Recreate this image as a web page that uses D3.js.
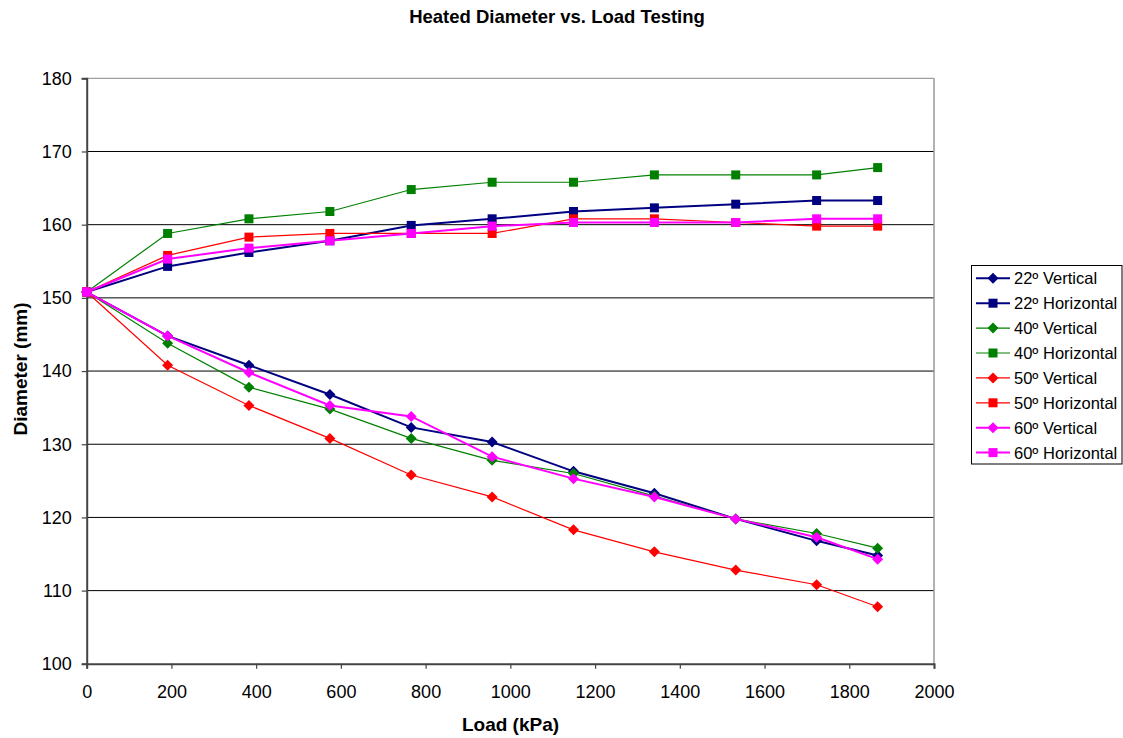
<!DOCTYPE html>
<html><head><meta charset="utf-8">
<script src="https://cdn.jsdelivr.net/npm/d3@7"></script>
<style>body{margin:0;background:#fff}svg{display:block}text{font-family:"Liberation Sans",Arial,sans-serif}</style>
</head><body>
<svg id="c" width="1123" height="738"></svg>
<script>
const loads = [0,191,383,574,766,957,1149,1340,1532,1723,1867];
const v22 = [150.8,144.8,140.8,136.8,132.3,130.3,126.3,123.3,119.8,116.8,114.8];
const h22 = [150.8,154.3,156.2,157.8,159.9,160.8,161.8,162.3,162.8,163.3,163.3];
const v40 = [150.8,143.8,137.8,134.8,130.8,127.8,126.0,122.9,119.8,117.8,115.8];
const h40 = [150.8,158.8,160.8,161.8,164.8,165.8,165.8,166.8,166.8,166.8,167.8];
const v50 = [150.8,140.8,135.3,130.8,125.8,122.8,118.3,115.3,112.8,110.8,107.8];
const h50 = [150.8,155.8,158.3,158.8,158.8,158.8,160.8,160.8,160.3,159.8,159.8];
const v60 = [150.8,144.8,139.8,135.3,133.8,128.3,125.3,122.8,119.8,117.3,114.3];
const h60 = [150.8,155.3,156.8,157.8,158.8,159.8,160.3,160.3,160.3,160.8,160.8];
const seriesNames = ["22º Vertical","22º Horizontal","40º Vertical","40º Horizontal","50º Vertical","50º Horizontal","60º Vertical","60º Horizontal"];
const seriesValues = [v22,h22,v40,h40,v50,h50,v60,h60];
const seriesColors = ["#000080","#000080","#008000","#008000","#ff0000","#ff0000","#ff00ff","#ff00ff"];
const seriesMarkers = ["diamond","square","diamond","square","diamond","square","diamond","square"];
const seriesWidths = [2,2,1.2,1.2,1.2,1.2,2,2];
const xTicks = [0,200,400,600,800,1000,1200,1400,1600,1800,2000];
const yTicks = [100,110,120,130,140,150,160,170,180];

const svg = d3.select("#c");
const L=86.7,R=934,T=78.3,B=663.8;
const x = d3.scaleLinear().domain([0,2000]).range([L,R]);
const y = d3.scaleLinear().domain([100,180]).range([B,T]);

// gridlines
svg.append("g").selectAll("line").data(yTicks.filter(d=>d>100)).join("line")
  .attr("x1",L).attr("x2",R).attr("y1",d=>y(d)).attr("y2",d=>y(d))
  .attr("stroke",d=>d===180?"#888":"#000").attr("stroke-width",1);
// right border
svg.append("line").attr("x1",R).attr("x2",R).attr("y1",T).attr("y2",B).attr("stroke","#999").attr("stroke-width",1.5);

// axes
const xa = svg.append("g").attr("transform",`translate(0,${B})`)
  .call(d3.axisBottom(x).tickValues(xTicks).tickSize(5).tickPadding(16).tickFormat(d3.format("d")));
const ya = svg.append("g").attr("transform",`translate(${L},0)`)
  .call(d3.axisLeft(y).tickValues(yTicks).tickSize(5).tickPadding(10).tickFormat(d3.format("d")));
[xa,ya].forEach(a=>{
  a.select(".domain").attr("stroke","#444").attr("stroke-width",2);
  a.selectAll(".tick line").attr("stroke","#444").attr("stroke-width",1.2);
  a.selectAll(".tick text").attr("font-size",18).attr("fill","#000").attr("font-family","Liberation Sans, Arial, sans-serif");
});

function marker(sel,type,color){
  if(type==="square"){
    sel.append("rect").attr("x",-4.5).attr("y",-4.5).attr("width",9).attr("height",9).attr("fill",color);
  } else {
    sel.append("path").attr("d","M0,-5.5L5.5,0L0,5.5L-5.5,0Z").attr("fill",color);
  }
}

const line = d3.line().x((d,i)=>x(loads[i])).y(d=>y(d));
seriesValues.forEach((vals,s)=>{
  const g = svg.append("g");
  g.append("path").attr("d",line(vals)).attr("fill","none")
    .attr("stroke",seriesColors[s]).attr("stroke-width",seriesWidths[s]);
  vals.forEach((v,i)=>{
    const m = g.append("g").attr("transform",`translate(${x(loads[i])},${y(v)})`);
    marker(m,seriesMarkers[s],seriesColors[s]);
  });
});

// title & axis labels
svg.append("text").attr("x",557).attr("y",23).attr("text-anchor","middle")
  .attr("font-size",18.5).attr("font-weight","bold").text("Heated Diameter vs. Load Testing");
svg.append("text").attr("x",510.5).attr("y",731).attr("text-anchor","middle")
  .attr("font-size",19).attr("font-weight","bold").text("Load (kPa)");
svg.append("text").attr("transform","translate(26.5,369) rotate(-90)").attr("text-anchor","middle")
  .attr("font-size",19).attr("font-weight","bold").text("Diameter (mm)");

// legend
const lg = svg.append("g");
lg.append("rect").attr("x",971.5).attr("y",265.5).attr("width",150.5).attr("height",198.5)
  .attr("fill","#fff").attr("stroke","#000").attr("stroke-width",1);
seriesNames.forEach((n,i)=>{
  const yy = 278.3 + i*24.9;
  lg.append("line").attr("x1",976).attr("x2",1010).attr("y1",yy).attr("y2",yy)
    .attr("stroke",seriesColors[i]).attr("stroke-width",seriesWidths[i]);
  const m = lg.append("g").attr("transform",`translate(993,${yy})`);
  marker(m,seriesMarkers[i],seriesColors[i]);
  lg.append("text").attr("x",1014).attr("y",yy+6).attr("font-size",16.5).text(n);
});
</script>
</body></html>
